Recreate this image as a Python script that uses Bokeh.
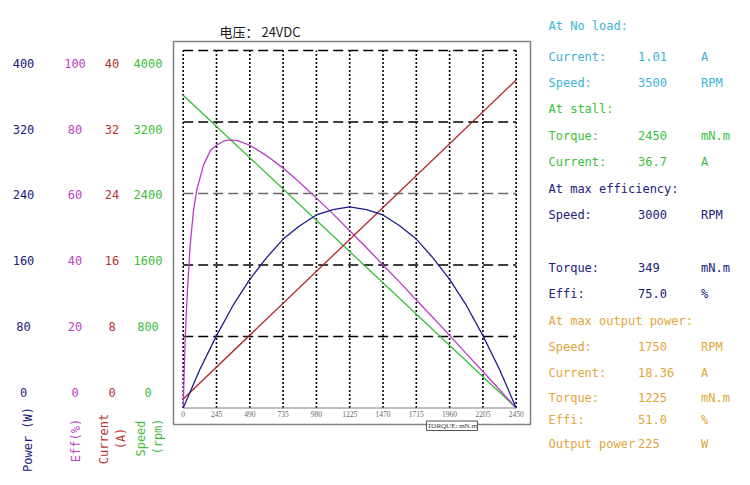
from math import pi
from bokeh.plotting import figure
from bokeh.models import Range1d
from bokeh.core.properties import value
from bokeh.embed import file_html
from bokeh.resources import INLINE

# ---- values ----
torque_ticks = [0, 245, 490, 735, 980, 1225, 1470, 1715, 1960, 2205, 2450]
power_ticks = [0, 80, 160, 240, 320, 400]
eff_ticks = [0, 20, 40, 60, 80, 100]
current_ticks = [0, 8, 16, 24, 32, 40]
speed_ticks = [0, 800, 1600, 2400, 3200, 4000]

# speed and current are straight lines
line_torque = [0, 2450]
speed_rpm = [3500, 0]
current_a = [1.01, 36.7]

power_torque = [0, 122.5, 245, 367.5, 490, 612.5, 735, 857.5, 980, 1102.5, 1225,
                1347.5, 1470, 1592.5, 1715, 1837.5, 1960, 2082.5, 2205, 2327.5, 2450]
power_w = [0, 43, 81, 115, 144, 168, 189, 204, 216, 222, 225,
           222, 216, 204, 189, 168, 144, 115, 81, 43, 0]

eff_torque = [0, 15, 30, 50, 75, 100, 150, 200, 245, 300, 349, 400, 490, 612.5, 735,
              857.5, 980, 1102.5, 1225, 1347.5, 1470, 1592.5, 1715, 1837.5, 1960,
              2082.5, 2205, 2327.5, 2450]
eff_pct = [0, 20, 32, 45, 55, 61, 68, 72, 73.5, 74.7, 75.0, 74.8, 73.5, 70.6, 67.1,
           63.1, 58.7, 54.3, 49.6, 44.9, 40.0, 35.2, 30.2, 25.3, 20.3,
           15.2, 10.2, 5.1, 0]

title_text = "电压： 24VDC"
torque_title = "TORQUE: mN.m"
axis_titles = ["Power (W)", "Eff(%)", "Current", "(A)", "Speed", "(rpm)"]

# info panel on the right
noload_title = "At No load:"
noload_rows = [("Current:", "1.01", "A"), ("Speed:", "3500", "RPM")]
stall_title = "At stall:"
stall_rows = [("Torque:", "2450", "mN.m"), ("Current:", "36.7", "A")]
maxeff_title = "At max efficiency:"
maxeff_rows = [("Speed:", "3000", "RPM"), ("", "", ""), ("Torque:", "349", "mN.m"),
               ("Effi:", "75.0", "%")]
maxpow_title = "At max output power:"
maxpow_rows = [("Speed:", "1750", "RPM"), ("Current:", "18.36", "A"),
               ("Torque:", "1225", "mN.m"), ("Effi:", "51.0", "%"),
               ("Output power", "225", "W")]

# ---- styling / layout ----
W, H = 744, 479
MONO = value("DejaVu Sans Mono")
SERIF = value("Liberation Serif")
C_POW, C_EFF, C_CUR, C_SPD = "#20207c", "#c040c8", "#b83232", "#3cbe3c"
C_NOLOAD, C_STALL, C_MAXEFF, C_MAXPOW = "#3ab2d6", "#3cbe3c", "#20207c", "#e2a43c"
# the 240 W grid line is drawn lighter in the original
HGRID_COLORS = ["black", "black", "#6a6a6a", "black", "black"]


def lin(v0, p0, v1, p1):
    return lambda px: v0 + (px - p0) * (v1 - v0) / (p1 - p0)


def xr(v0, p0, v1, p1):
    f = lin(v0, p0, v1, p1)
    return Range1d(start=f(0), end=f(W))


def yr(v0, p0, v1, p1):
    f = lin(v0, p0, v1, p1)
    return Range1d(start=f(H), end=f(0))


# plot area: torque 0..2450 at x 182.7..515.7, power 0..400 at y 407.5..50 (px)
PX0, PX1, PY0, PY1 = 182.7, 515.7, 407.5, 50.0
# left label columns: 0 at y 391.7, top at 62.7
LY0, LY1 = 391.7, 62.7

p = figure(width=W, height=H, output_backend="svg", toolbar_location=None,
           x_range=xr(0, PX0, 2450, PX1), y_range=yr(0, PY0, 400, PY1),
           x_axis_location=None, y_axis_location=None, min_border=0,
           outline_line_color=None, background_fill_color="white",
           border_fill_color="white")
p.grid.visible = False
p.extra_x_ranges = {"px": Range1d(0, W)}
p.extra_y_ranges = {
    "py": Range1d(H, 0),
    "eff": yr(0, PY0, 100, PY1),
    "current": yr(0, PY0, 40, PY1),
    "speed": yr(0, PY0, 4000, PY1),
    "l_pow": yr(0, LY0, 400, LY1),
    "l_eff": yr(0, LY0, 100, LY1),
    "l_cur": yr(0, LY0, 40, LY1),
    "l_spd": yr(0, LY0, 4000, LY1),
}

# outer box
p.quad(left=173, right=530, top=41, bottom=424, x_range_name="px", y_range_name="py",
       fill_color="white", line_color="#808080", line_width=1.5)

# grid
top = max(power_ticks)
p.segment(x0=0, x1=max(torque_ticks), y0=power_ticks[1:], y1=power_ticks[1:],
          line_color=HGRID_COLORS, line_width=1.4, line_dash="10 5")
p.segment(x0=torque_ticks, x1=torque_ticks, y0=0, y1=top,
          line_color="black", line_width=1.6, line_dash="2 2")
p.segment(x0=0, x1=max(torque_ticks), y0=0, y1=0, line_color="#808080", line_width=1)

# curves
p.line(line_torque, speed_rpm, y_range_name="speed", line_color="#30c030", line_width=1.3)
p.line(eff_torque, eff_pct, y_range_name="eff", line_color="#b83cc6", line_width=1.3)
p.line(line_torque, current_a, y_range_name="current", line_color="#b02424", line_width=1.3)
p.line(power_torque, power_w, line_color="#1c1c8c", line_width=1.3)

# torque tick labels
p.text(x=torque_ticks, y=0, text=[str(t) for t in torque_ticks], y_offset=6,
       text_font=SERIF, text_font_size="7.5px", text_color="#666666",
       text_align="center", text_baseline="middle")

# torque title box
p.quad(left=426, right=477, top=420.5, bottom=430, x_range_name="px", y_range_name="py",
       fill_color="white", line_color="#555555", line_width=1)
p.text(x=451.5, y=425.5, text=[torque_title], x_range_name="px", y_range_name="py",
       text_font=SERIF, text_font_size="7px", text_color="#333333",
       text_align="center", text_baseline="middle")

# chart title
p.text(x=219, y=31, text=[title_text], x_range_name="px", y_range_name="py",
       text_font=value("Noto Sans CJK SC"), text_font_size="13px", text_color="#1a1a1a",
       text_align="left", text_baseline="middle")

# left value columns
for col_x, ticks, rname, color in [(23, power_ticks, "l_pow", C_POW),
                                   (74.5, eff_ticks, "l_eff", C_EFF),
                                   (111.5, current_ticks, "l_cur", C_CUR),
                                   (147.5, speed_ticks, "l_spd", C_SPD)]:
    p.text(x=col_x, y=ticks, text=[str(t) for t in ticks],
           x_range_name="px", y_range_name=rname, text_font=MONO,
           text_font_size="12px", text_color=color,
           text_align="center", text_baseline="middle")

# vertical axis titles
title_pos = [(27, 439), (75, 440), (103.5, 438.5), (120, 438), (140, 438), (157, 436)]
title_col = [C_POW, C_EFF, C_CUR, C_CUR, C_SPD, C_SPD]
p.text(x=[t[0] for t in title_pos], y=[t[1] for t in title_pos], text=axis_titles,
       angle=pi / 2, x_range_name="px", y_range_name="py", text_font=MONO,
       text_font_size="12px", text_color=title_col,
       text_align="center", text_baseline="middle")

# info panel
row_y = [25, 56, 82, 108, 135, 161, 188, 214, 240, 267, 293, 320, 346, 372, 397, 419, 443]
labels, vals, units, cols = [], [], [], []
for title, rows, color in [(noload_title, noload_rows, C_NOLOAD),
                           (stall_title, stall_rows, C_STALL),
                           (maxeff_title, maxeff_rows, C_MAXEFF),
                           (maxpow_title, maxpow_rows, C_MAXPOW)]:
    labels.append(title); vals.append(""); units.append(""); cols.append(color)
    for a, b, c in rows:
        labels.append(a); vals.append(b); units.append(c); cols.append(color)

for col_x, txt in [(548, labels), (637.5, vals), (700.5, units)]:
    p.text(x=col_x, y=row_y, text=txt, x_range_name="px", y_range_name="py",
           text_font=MONO, text_font_size="12px", text_color=cols,
           text_align="left", text_baseline="middle")

open("out.html", "w").write(file_html(p, INLINE))
